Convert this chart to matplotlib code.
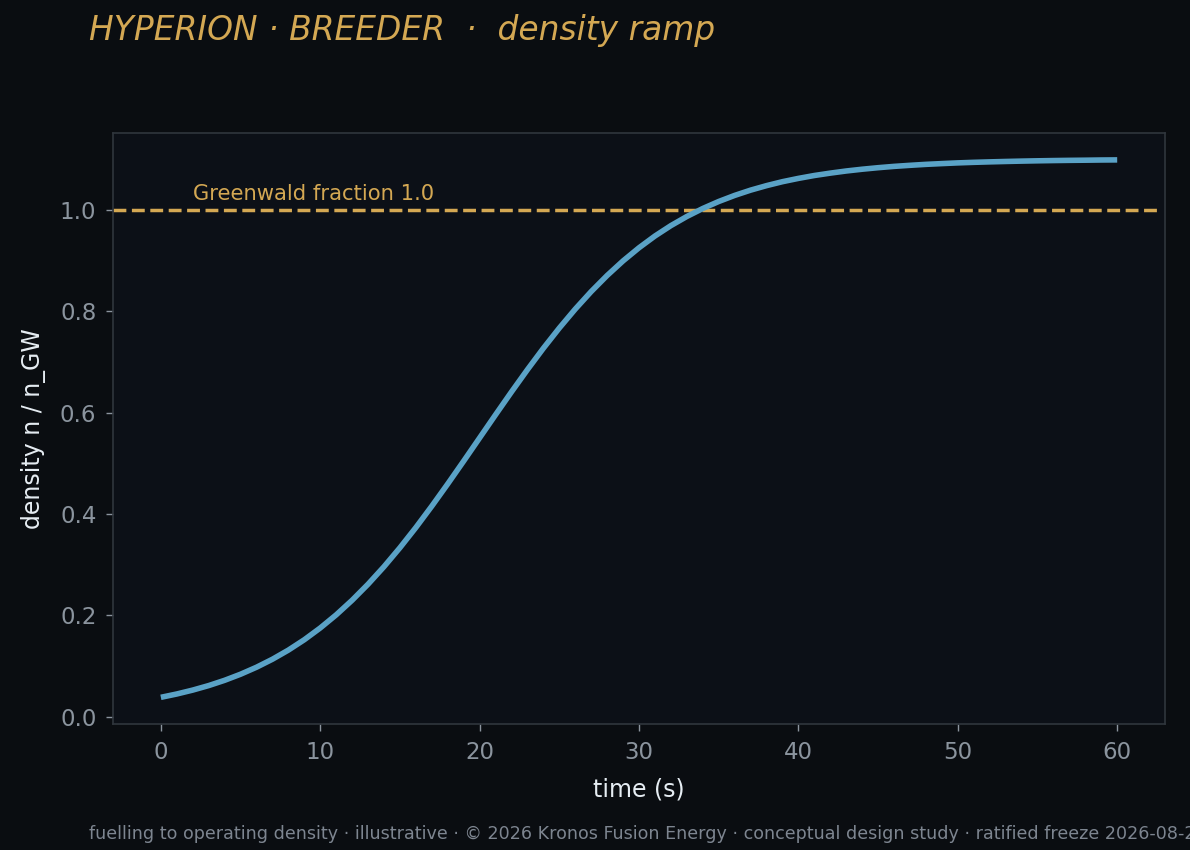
import matplotlib
matplotlib.use("Agg")
import matplotlib.pyplot as plt

time_s = list(range(0, 61))
density = [0.0379, 0.0445, 0.0522, 0.0611, 0.0715, 0.0835, 0.0973, 0.1131, 0.1311, 0.1516,
           0.1748, 0.2007, 0.2295, 0.2612, 0.2958, 0.3332, 0.3731, 0.4153, 0.4592, 0.5043,
           0.5500, 0.5957, 0.6408, 0.6847, 0.7269, 0.7668, 0.8042, 0.8388, 0.8705, 0.8993,
           0.9252, 0.9484, 0.9689, 0.9869, 1.0027, 1.0165, 1.0285, 1.0389, 1.0478, 1.0556,
           1.0621, 1.0678, 1.0725, 1.0767, 1.0802, 1.0832, 1.0858, 1.0879, 1.0898, 1.0913,
           1.0927, 1.0938, 1.0947, 1.0955, 1.0962, 1.0968, 1.0973, 1.0977, 1.0980, 1.0984,
           1.0986]
greenwald_limit = 1.0
greenwald_label = "Greenwald fraction 1.0"
title = "HYPERION · BREEDER  ·  density ramp"
footer = ("fuelling to operating density · illustrative · © 2026 Kronos Fusion Energy · "
          "conceptual design study · ratified freeze 2026-08-21")

FIG_BG = "#0a0d11"
AX_BG = "#0c1017"
SPINE = "#30363d"
TICK = "#8b949e"
LABEL = "#e6edf3"
GOLD = "#d4a853"
BLUE = "#5aa2c6"

plt.rcParams['font.family'] = ['DejaVu Sans']

fig = plt.figure(figsize=(11.9, 8.5), dpi=100, facecolor=FIG_BG)
ax = fig.add_axes([0.095, 0.148, 0.884, 0.6955])
ax.set_facecolor(AX_BG)

ax.plot(time_s, density, color=BLUE, lw=4.0, solid_capstyle='butt', zorder=3)
ax.axhline(greenwald_limit, xmax=0.994, color=GOLD, lw=2.5, ls='--', zorder=2)
ax.text(2, 1.02, greenwald_label, color=GOLD, fontsize=15.2, va='baseline', ha='left')

ax.set_xticks([0, 10, 20, 30, 40, 50, 60])
ax.set_yticks([0.0, 0.2, 0.4, 0.6, 0.8, 1.0])
ax.yaxis.set_major_formatter(matplotlib.ticker.FormatStrFormatter('%.1f'))

for s in ax.spines.values():
    s.set_color(SPINE)
    s.set_linewidth(1.2)
ax.tick_params(colors=TICK, labelsize=16.5, length=5, width=1.0, pad=7)
ax.tick_params(axis='both', which='major', color=TICK)

ax.set_xlabel("time (s)", color=LABEL, fontsize=17, labelpad=10)
ax.set_ylabel("density n / n_GW", color=LABEL, fontsize=17, labelpad=10)

fig.text(0.075, 0.9535, title, color=GOLD, fontsize=23.7, style='italic',
         ha='left', va='baseline')
fig.text(0.075, 0.013, footer, color="#7d8590", fontsize=12.6,
         ha='left', va='baseline')

fig.savefig("out.png", dpi=100, facecolor=FIG_BG)
